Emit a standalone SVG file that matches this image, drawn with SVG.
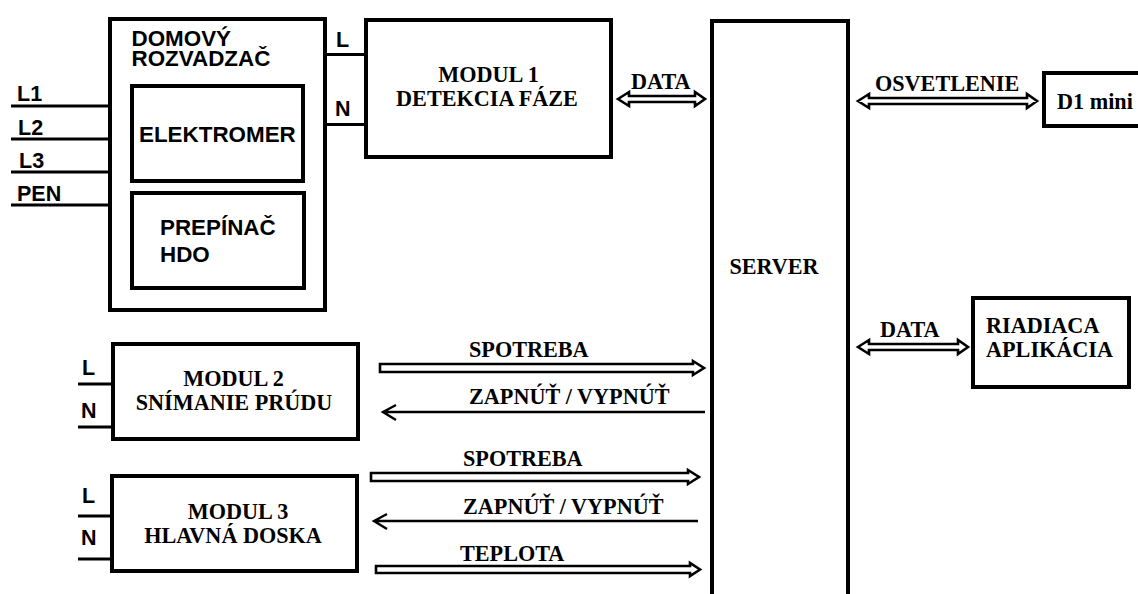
<svg xmlns="http://www.w3.org/2000/svg" width="1138" height="594" viewBox="0 0 1138 594">
<style>
.b{fill:#fff;stroke:#000;stroke-width:4}
.w{fill:none;stroke:#000;stroke-width:3}
.h{fill:#fff;stroke:#000;stroke-width:2.6;stroke-linejoin:miter}
.a{fill:none;stroke:#000;stroke-width:2.4}
.s{font-family:"Liberation Sans",Arial,sans-serif;font-weight:700;font-size:22.4px;fill:#000}
.l{font-size:21.500px}
.t{font-family:"Liberation Serif","Times New Roman",serif;font-weight:700;font-size:22.200px;fill:#000}
</style>
<rect width="1138" height="594" fill="#fff"/>
<g id="connectors">
<path class="w" d="M11 106H110M11 139H110M11 172H110M11 205H110M325 54.500H366M325 124.500H366M78 384H113M78 427H113M78 516H112M78 559H112"/>
<path class="h" d="M618 99L629 92V96H695V92L705 99L695 106V102H629V106Z"/>
<path class="h" d="M858 101L869 94V98H1027V94L1037 101L1027 108V104H869V108Z"/>
<path class="h" d="M858 347L869 340V344H958V340L968 347L958 354V350H869V354Z"/>
<path class="h" d="M380 364H693V361L704 368L693 375V372H380Z"/>
<path class="h" d="M371 473H688V470L699 477L688 484V481H371Z"/>
<path class="h" d="M376 566H690V563L700 569.500L690 576V573H376Z"/>
<path class="a" d="M705 412H384M396 405L383 412L396 420"/>
<path class="a" d="M698 521H375M387 514L374 521L387 529"/>
</g>
<g id="domovy"><rect class="b" x="110" y="19" width="215" height="291"/>
<text class="s"><tspan x="131.500" y="46">DOMOVÝ</tspan><tspan x="131.500" y="66">ROZVADZAČ</tspan></text></g>
<g id="elektromer"><rect class="b" x="132" y="86" width="171" height="95"/><text class="s" x="139" y="142">ELEKTROMER</text></g>
<g id="prepinac"><rect class="b" x="132" y="193" width="172" height="95"/><text class="s" x="160" y="235">PREPÍNAČ</text><text class="s" x="160" y="262">HDO</text></g>
<g id="lines"><text class="s l" x="17" y="101">L1</text><text class="s l" x="18" y="135">L2</text><text class="s l" x="19" y="168">L3</text><text class="s l" x="17" y="201">PEN</text>
<text class="s l" x="336" y="47">L</text><text class="s l" x="335" y="116">N</text>
<text class="s l" x="82" y="375">L</text><text class="s l" x="81" y="418">N</text><text class="s l" x="82" y="503">L</text><text class="s l" x="81" y="545">N</text></g>
<g id="modul1"><rect class="b" x="366" y="20" width="245" height="137"/><text class="t" x="488.500" y="82" text-anchor="middle">MODUL 1</text><text class="t" x="487" y="106" text-anchor="middle">DETEKCIA FÁZE</text></g>
<g id="server"><path class="b" d="M712 594V21H848V594"/><text class="t" x="774" y="274" text-anchor="middle">SERVER</text></g>
<g id="d1"><path class="b" d="M1140 73H1044V126H1140"/><text class="t" x="1057" y="109">D1 mini</text></g>
<g id="riadiaca"><rect class="b" x="973" y="298" width="156" height="89"/><text class="t" x="986" y="333">RIADIACA</text><text class="t" x="986" y="357">APLIKÁCIA</text></g>
<g id="modul2"><rect class="b" x="113" y="344" width="245" height="95"/><text class="t" x="233.500" y="386" text-anchor="middle">MODUL 2</text><text class="t" x="234" y="410" text-anchor="middle">SNÍMANIE PRÚDU</text></g>
<g id="modul3"><rect class="b" x="112" y="476" width="245" height="95"/><text class="t" x="238" y="519" text-anchor="middle">MODUL 3</text><text class="t" x="233" y="543" text-anchor="middle">HLAVNÁ DOSKA</text></g>
<g id="labels">
<text class="t" x="631" y="89">DATA</text><text class="t" x="875" y="91">OSVETLENIE</text><text class="t" x="880" y="337">DATA</text>
<text class="t" x="469" y="357">SPOTREBA</text><text class="t" x="469" y="404">ZAPNÚŤ / VYPNÚŤ</text>
<text class="t" x="463" y="466">SPOTREBA</text><text class="t" x="463" y="514">ZAPNÚŤ / VYPNÚŤ</text><text class="t" x="460" y="561">TEPLOTA</text>
</g>
</svg>
